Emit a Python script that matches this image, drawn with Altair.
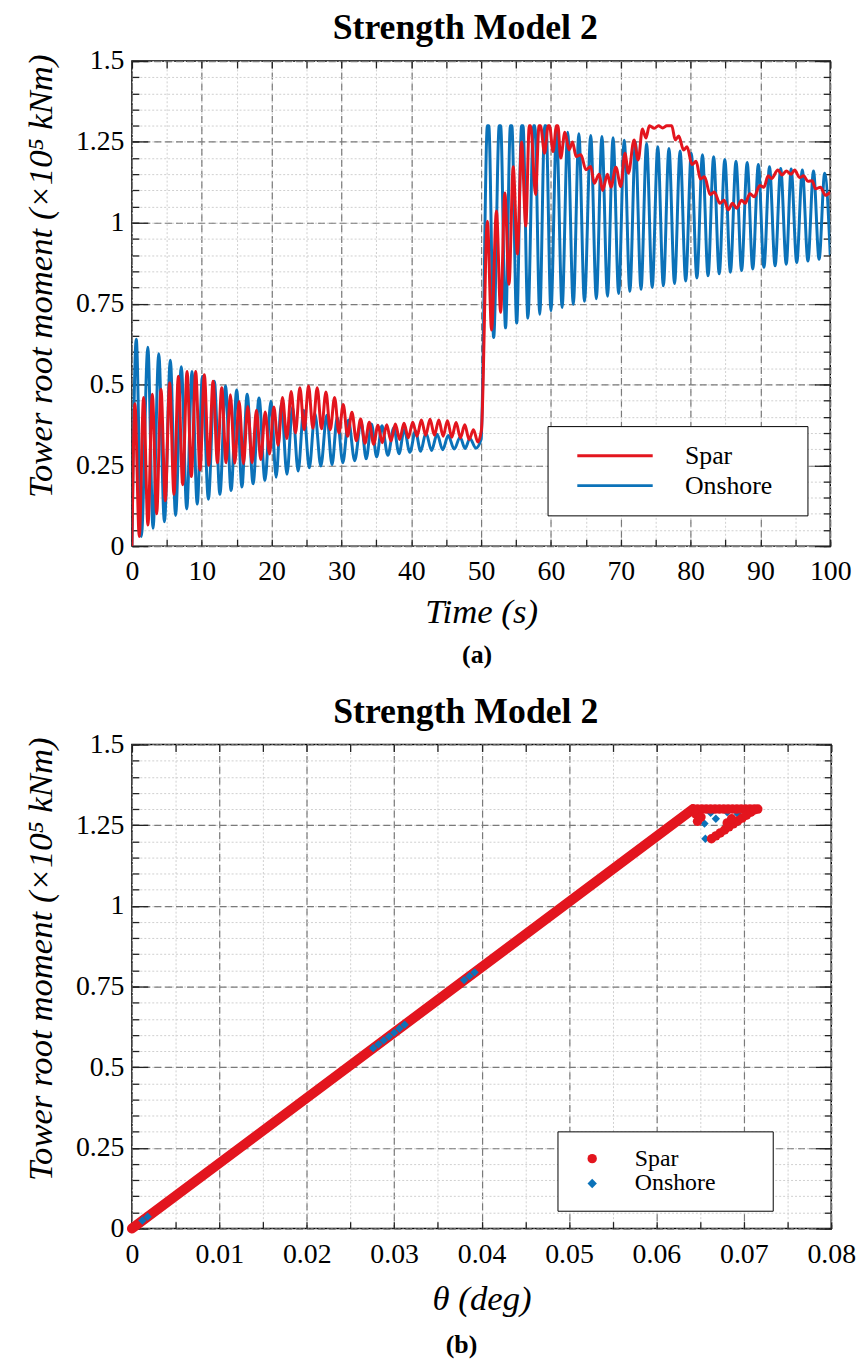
import altair as alt
import pandas as pd

RED = "#E3151E"
BLUE = "#0B72B9"
FONT = "Liberation Serif"
MAJOR_GRID = "#7a7a7a"
MINOR_GRID = "#cfcfcf"

series_names = ["Spar", "Onshore"]
series_colors = [RED, BLUE]
series_shapes = ["circle", "diamond"]

# ---------------- (a) turning points of the time histories (time s, moment x1e5 kNm) ----------------
onshore_points = [
    (0.0, 0.0), (0.62, 0.64), (1.35, 0.03), (2.28, 0.615), (3.02, 0.055), (3.84, 0.595), (4.65, 0.075),
    (5.50, 0.575), (6.25, 0.095), (7.07, 0.555), (7.85, 0.115), (8.60, 0.54), (9.35, 0.13), (10.10, 0.525),
    (10.95, 0.145), (11.80, 0.51), (12.60, 0.16), (13.40, 0.495), (14.20, 0.172), (15.00, 0.483),
    (15.75, 0.183), (16.50, 0.47), (17.35, 0.193), (18.20, 0.458), (19.05, 0.203), (19.90, 0.448),
    (20.65, 0.213), (21.40, 0.44), (22.20, 0.222), (23.00, 0.43), (23.80, 0.232), (24.60, 0.42),
    (25.40, 0.242), (26.20, 0.41), (27.05, 0.248), (27.90, 0.405), (28.65, 0.252), (29.40, 0.398),
    (30.20, 0.258), (31.00, 0.39), (31.90, 0.264), (32.80, 0.385), (33.55, 0.27), (34.30, 0.378),
    (35.05, 0.276), (35.80, 0.372), (36.65, 0.281), (37.50, 0.366), (38.25, 0.286), (39.00, 0.361),
    (39.80, 0.29), (40.60, 0.356), (41.35, 0.293), (42.10, 0.351), (42.90, 0.296), (43.70, 0.346),
    (44.50, 0.298), (45.30, 0.342), (46.15, 0.30), (47.00, 0.337), (47.70, 0.302), (48.40, 0.333),
    (49.25, 0.303), (50.00, 0.33),
    (50.9, 1.3), (51.1, 1.3), (51.8, 0.645), (52.6, 1.3), (52.8, 1.3), (53.5, 0.675), (54.2, 1.3),
    (54.4, 1.3), (55.1, 0.69), (55.8, 1.3), (56.0, 1.3), (56.7, 0.705), (57.5, 1.3), (57.7, 1.3),
    (58.4, 0.717), (59.1, 1.3), (59.3, 1.3), (60.0, 0.728), (60.8, 1.29), (61.6, 0.738), (62.4, 1.28),
    (63.2, 0.748), (64.0, 1.275), (64.8, 0.757), (65.7, 1.27), (66.5, 0.765), (67.3, 1.267), (68.1, 0.773),
    (68.9, 1.263), (69.7, 0.781), (70.5, 1.255), (71.3, 0.788), (72.1, 1.25), (72.9, 0.794), (73.7, 1.245),
    (74.5, 0.80), (75.3, 1.235), (76.1, 0.805), (76.9, 1.23), (77.7, 0.812), (78.5, 1.222), (79.3, 0.82),
    (80.1, 1.215), (80.9, 0.829), (81.7, 1.21), (82.5, 0.836), (83.3, 1.204), (84.1, 0.842), (84.9, 1.196),
    (85.7, 0.847), (86.5, 1.19), (87.3, 0.852), (88.1, 1.186), (88.9, 0.857), (89.7, 1.18), (90.5, 0.862),
    (91.3, 1.173), (92.1, 0.867), (92.9, 1.168), (93.7, 0.872), (94.4, 1.166), (95.2, 0.877), (96.0, 1.163),
    (96.8, 0.882), (97.6, 1.16), (98.4, 0.887), (99.2, 1.153), (100.0, 0.9),
]

spar_points = [
    (0.0, 0.0), (0.43, 0.44), (1.05, 0.03), (1.67, 0.46), (2.29, 0.065), (2.92, 0.47), (3.54, 0.10),
    (4.16, 0.485), (4.78, 0.14), (5.40, 0.505), (6.02, 0.16), (6.65, 0.525), (7.27, 0.19), (7.89, 0.54),
    (8.51, 0.215), (9.13, 0.54), (9.75, 0.235), (10.37, 0.53), (10.99, 0.25), (11.62, 0.51), (12.24, 0.258),
    (12.86, 0.49), (13.48, 0.258), (14.10, 0.468), (14.72, 0.256), (15.35, 0.447), (15.97, 0.255),
    (16.59, 0.432), (17.21, 0.258), (17.83, 0.42), (18.45, 0.268), (19.08, 0.415), (19.70, 0.285),
    (20.32, 0.43), (20.94, 0.312), (21.56, 0.46), (22.18, 0.333), (22.80, 0.478), (23.42, 0.35),
    (24.05, 0.49), (24.67, 0.36), (25.29, 0.495), (25.91, 0.365), (26.53, 0.49), (27.15, 0.363),
    (27.78, 0.477), (28.40, 0.36), (29.02, 0.46), (29.64, 0.35), (30.26, 0.438), (30.88, 0.34),
    (31.51, 0.414), (32.13, 0.326), (32.75, 0.393), (33.37, 0.318), (33.99, 0.383), (34.61, 0.315),
    (35.23, 0.374), (35.85, 0.32), (36.48, 0.375), (37.10, 0.325), (37.72, 0.378), (38.34, 0.33),
    (38.96, 0.38), (39.58, 0.335), (40.21, 0.383), (40.83, 0.34), (41.45, 0.39), (42.07, 0.343),
    (42.69, 0.392), (43.31, 0.343), (43.94, 0.39), (44.56, 0.34), (45.18, 0.388), (45.80, 0.337),
    (46.42, 0.382), (47.04, 0.335), (47.66, 0.375), (48.28, 0.33), (48.91, 0.36), (49.53, 0.322),
    (50.05, 0.36),
    (50.9, 1.005), (51.5, 0.668), (52.2, 1.036), (52.8, 0.723), (53.4, 1.092), (54.0, 0.81), (54.6, 1.173),
    (55.2, 0.903), (55.8, 1.25), (56.4, 0.99), (56.9, 1.30), (57.1, 1.30), (57.8, 1.087), (58.3, 1.30),
    (58.5, 1.30), (59.1, 1.215), (59.6, 1.30), (59.8, 1.30), (60.3, 1.22), (60.8, 1.30), (61.0, 1.30),
    (61.4, 1.20), (62.0, 1.28), (62.6, 1.225), (63.1, 1.25), (63.6, 1.205), (64.3, 1.21), (65.0, 1.164),
    (65.7, 1.174), (66.2, 1.122), (66.9, 1.15), (67.4, 1.10), (68.1, 1.15), (68.6, 1.11), (69.3, 1.172),
    (70.0, 1.112), (70.6, 1.215), (71.1, 1.153), (71.9, 1.256), (72.5, 1.194), (73.1, 1.29), (73.6, 1.262),
    (74.1, 1.30), (74.8, 1.292), (75.4, 1.30), (76.0, 1.293), (76.6, 1.30), (77.3, 1.30), (77.8, 1.256),
    (78.3, 1.268), (79.0, 1.225), (79.5, 1.235), (80.2, 1.18), (80.8, 1.19), (81.4, 1.135), (82.0, 1.142),
    (82.8, 1.087), (83.4, 1.095), (84.2, 1.06), (84.8, 1.07), (85.4, 1.04), (86.0, 1.06), (86.6, 1.045),
    (87.3, 1.07), (87.8, 1.06), (88.5, 1.09), (89.1, 1.08), (89.9, 1.115), (90.5, 1.11), (91.1, 1.145),
    (91.6, 1.137), (92.5, 1.163), (93.1, 1.148), (93.7, 1.16), (94.4, 1.15), (94.9, 1.163), (95.6, 1.14),
    (96.2, 1.145), (96.8, 1.128), (97.4, 1.13), (97.9, 1.105), (98.6, 1.11), (99.3, 1.085), (100.0, 1.095),
]

# ---------------- (b) moment vs rotation ----------------
band_theta = [0.0, 0.0642]
band_moment = [0.0, 1.30]

spar_scatter = [
    (0.0642, 1.30), (0.0647, 1.30), (0.0652, 1.30), (0.0657, 1.30), (0.0662, 1.30), (0.0667, 1.30),
    (0.0672, 1.30), (0.0677, 1.30), (0.0682, 1.30), (0.0687, 1.30), (0.0692, 1.30), (0.0697, 1.30),
    (0.0702, 1.30), (0.0707, 1.30), (0.0712, 1.30), (0.0716, 1.30),
    (0.0645, 1.285), (0.0647, 1.262), (0.0651, 1.275),
    (0.0663, 1.208), (0.0668, 1.217), (0.0673, 1.226), (0.0678, 1.235), (0.0683, 1.245), (0.0688, 1.254),
    (0.0693, 1.263), (0.0698, 1.272), (0.0703, 1.281), (0.0708, 1.290), (0.0712, 1.297),
    (0.0681, 1.257), (0.0686, 1.270),
]
onshore_scatter = [
    (0.0012, 0.025), (0.0018, 0.037),
    (0.0276, 0.559), (0.0282, 0.571), (0.0288, 0.583), (0.0294, 0.595), (0.0300, 0.607), (0.0306, 0.620),
    (0.0312, 0.632), (0.0380, 0.770), (0.0386, 0.782), (0.0392, 0.794),
    (0.0656, 1.208), (0.0655, 1.255), (0.0668, 1.27), (0.0681, 1.29), (0.0693, 1.285), (0.0686, 1.262),
    (0.0678, 1.30), (0.0690, 1.30), (0.0662, 1.288), (0.0672, 1.30), (0.0698, 1.30),
]

time_major = [0, 10, 20, 30, 40, 50, 60, 70, 80, 90, 100]
time_minor = [0, 5, 10, 15, 20, 25, 30, 35, 40, 45, 50, 55, 60, 65, 70, 75, 80, 85, 90, 95, 100]
moment_major = [0, 0.25, 0.5, 0.75, 1, 1.25, 1.5]
moment_minor = [0, 0.05, 0.1, 0.15, 0.2, 0.25, 0.3, 0.35, 0.4, 0.45, 0.5, 0.55, 0.6, 0.65, 0.7, 0.75,
                0.8, 0.85, 0.9, 0.95, 1, 1.05, 1.1, 1.15, 1.2, 1.25, 1.3, 1.35, 1.4, 1.45, 1.5]
theta_major = [0, 0.01, 0.02, 0.03, 0.04, 0.05, 0.06, 0.07, 0.08]
theta_minor = [0, 0.005, 0.01, 0.015, 0.02, 0.025, 0.03, 0.035, 0.04, 0.045, 0.05, 0.055, 0.06,
               0.065, 0.07, 0.075, 0.08]

W_A, H_A = 704, 489
W_B, H_B = 705, 488
YTITLE = "Tower root moment (\u00d710\u2075 kNm)"
PLAIN_LABEL = "'' + datum.value"
NB = "\u00a0"
ZW = "\u200b"


def pts_df(points, name, xf, yf):
    return pd.DataFrame({xf: [p[0] for p in points], yf: [p[1] for p in points], "series": name})


def frame_layers(xf, yf, xdom, ydom, xmaj, xmin, ymaj, ymin, W, H, xtitle, xtitle_pad):
    dom = pd.DataFrame({xf: xdom, yf: ydom})
    xs = alt.Scale(domain=xdom, nice=False, zero=False)
    ys = alt.Scale(domain=ydom, nice=False, zero=False)

    def ghost(xa, ya):
        return alt.Chart(dom).mark_point(opacity=0).encode(
            x=alt.X(f"{xf}:Q", scale=xs, axis=xa),
            y=alt.Y(f"{yf}:Q", scale=ys, axis=ya),
        )

    def minor(orient, values):
        return alt.Axis(orient=orient, values=values, grid=True, gridColor=MINOR_GRID, gridDash=[2, 2],
                        gridWidth=1, labels=False, ticks=False, tickSize=0, domain=False, title=None)

    def tick_axis(orient, values, size, offset):
        return alt.Axis(orient=orient, offset=offset, values=values, ticks=True, tickSize=size,
                        tickWidth=1.3, tickColor="#222222", labels=False, domain=False, grid=False, title=None)

    x_main = alt.Axis(orient="bottom", values=xmaj, labelExpr=PLAIN_LABEL, grid=True, gridColor=MAJOR_GRID,
                      gridDash=[7, 4], gridWidth=1.2, ticks=False, tickSize=0, domain=False,
                      labelPadding=12, labelFlush=False, labelOverlap=False, labelFont=FONT, labelFontSize=28,
                      labelColor="black", title=xtitle, titlePadding=xtitle_pad, titleFont=FONT,
                      titleFontSize=35, titleFontStyle="italic", titleFontWeight="normal", titleColor="black")
    y_main = alt.Axis(orient="left", values=ymaj, labelExpr=PLAIN_LABEL, grid=True, gridColor=MAJOR_GRID,
                      gridDash=[7, 4], gridWidth=1.2, ticks=False, tickSize=0, domain=False,
                      labelPadding=8, labelFlush=False, labelOverlap=False, labelFont=FONT, labelFontSize=28,
                      labelColor="black", title=YTITLE, titlePadding=17, titleY=H / 2 - 28, titleFont=FONT,
                      titleFontSize=35, titleFontStyle="italic", titleFontWeight="normal", titleColor="black")
    layers = [
        ghost(minor("bottom", xmin), minor("left", ymin)),
        ghost(x_main, y_main),
        ghost(tick_axis("top", xmin, 7, -H), tick_axis("right", ymin, 7, -W)),
        ghost(tick_axis("bottom", xmin, 7, -H), tick_axis("left", ymin, 7, -W)),
        ghost(None, tick_axis("right", ymaj, 16, -W)),
        ghost(None, tick_axis("left", ymaj, 16, -W)),
    ]
    return layers, xs, ys


def panel_title():
    return alt.TitleParams("Strength Model 2", font=FONT, fontSize=36, fontWeight="bold", color="black",
                           anchor="middle", frame="group", offset=-28, baseline="alphabetic", dx=-16)


def caption(text, dx, offset):
    return alt.TitleParams(text, orient="bottom", font=FONT, fontSize=26, fontWeight="bold", color="black",
                           anchor="middle", offset=offset, dx=dx)


# ---------------- panel (a) ----------------
layers_a, xs_a, ys_a = frame_layers("time", "moment", [0, 100], [0, 1.5], time_major, time_minor,
                                    moment_major, moment_minor, W_A, H_A, "Time (s)", 9)
legend_a = alt.Legend(title=None, orient="none", legendX=419, legendY=368, symbolType="stroke",
                      symbolSize=5776, symbolStrokeWidth=3, clipHeight=30, rowPadding=0, padding=15,
                      symbolOffset=13.5, labelOffset=31, labelFont=FONT, labelFontSize=26, labelColor="black",
                      strokeColor="black", fillColor="white",
                      labelExpr=f"datum.label + '{NB * 3}{ZW}'")
color_a = alt.Color("series:N", scale=alt.Scale(domain=series_names, range=series_colors), legend=legend_a)


def line_layer(df):
    return alt.Chart(df).mark_line(interpolate="monotone", strokeWidth=3, clip=True).encode(
        x=alt.X("time:Q", scale=xs_a, axis=None),
        y=alt.Y("moment:Q", scale=ys_a, axis=None),
        color=color_a,
    )


panel_a = alt.layer(
    *layers_a,
    line_layer(pts_df(onshore_points, "Onshore", "time", "moment")),
    line_layer(pts_df(spar_points, "Spar", "time", "moment")),
).resolve_axis(x="independent", y="independent").properties(width=W_A, height=H_A, title=panel_title())

# ---------------- panel (b) ----------------
layers_b, xs_b, ys_b = frame_layers("theta", "moment", [0, 0.08], [0, 1.5], theta_major, theta_minor,
                                    moment_major, moment_minor, W_B, H_B, "\u03b8 (deg)", 14)
legend_b = alt.Legend(title=None, orient="none", legendX=429, legendY=390, symbolSize=90,
                      symbolStrokeWidth=0, clipHeight=25, rowPadding=0, padding=15, symbolOffset=8,
                      labelOffset=31, labelFont=FONT, labelFontSize=24, labelColor="black",
                      strokeColor="black", fillColor="white",
                      labelExpr=f"datum.label + '{NB * 7}{ZW}'")
color_b = alt.Color("series:N", scale=alt.Scale(domain=series_names, range=series_colors), legend=legend_b)
shape_b = alt.Shape("series:N", scale=alt.Scale(domain=series_names, range=series_shapes), legend=legend_b)

band = alt.Chart(pd.DataFrame({"theta": band_theta, "moment": band_moment})).mark_line(
    color=RED, strokeWidth=10, strokeCap="round").encode(
    x=alt.X("theta:Q", scale=xs_b, axis=None),
    y=alt.Y("moment:Q", scale=ys_b, axis=None),
)


def scatter_layer(df, size):
    return alt.Chart(df).mark_point(filled=True, opacity=1, size=size, strokeWidth=0).encode(
        x=alt.X("theta:Q", scale=xs_b, axis=None),
        y=alt.Y("moment:Q", scale=ys_b, axis=None),
        color=color_b,
        shape=shape_b,
    )


panel_b = alt.layer(
    *layers_b,
    band,
    scatter_layer(pts_df(onshore_scatter, "Onshore", "theta", "moment"), 70),
    scatter_layer(pts_df(spar_scatter, "Spar", "theta", "moment"), 90),
).resolve_axis(x="independent", y="independent").properties(width=W_B, height=H_B, title=panel_title())

cap_a = alt.vconcat(panel_a, title=caption("(a)", 40, 12))
cap_b = alt.vconcat(panel_b, title=caption("(b)", 22, 15))

chart = alt.vconcat(cap_a, cap_b, spacing=25).resolve_scale(
    color="independent", shape="independent"
).resolve_legend(color="independent", shape="independent").properties(
    padding={"left": 23, "top": 4, "right": 5, "bottom": 5}
).configure_view(stroke="black", strokeWidth=1.5)

chart.save("out.html", embed_options={"renderer": "svg", "actions": False})
